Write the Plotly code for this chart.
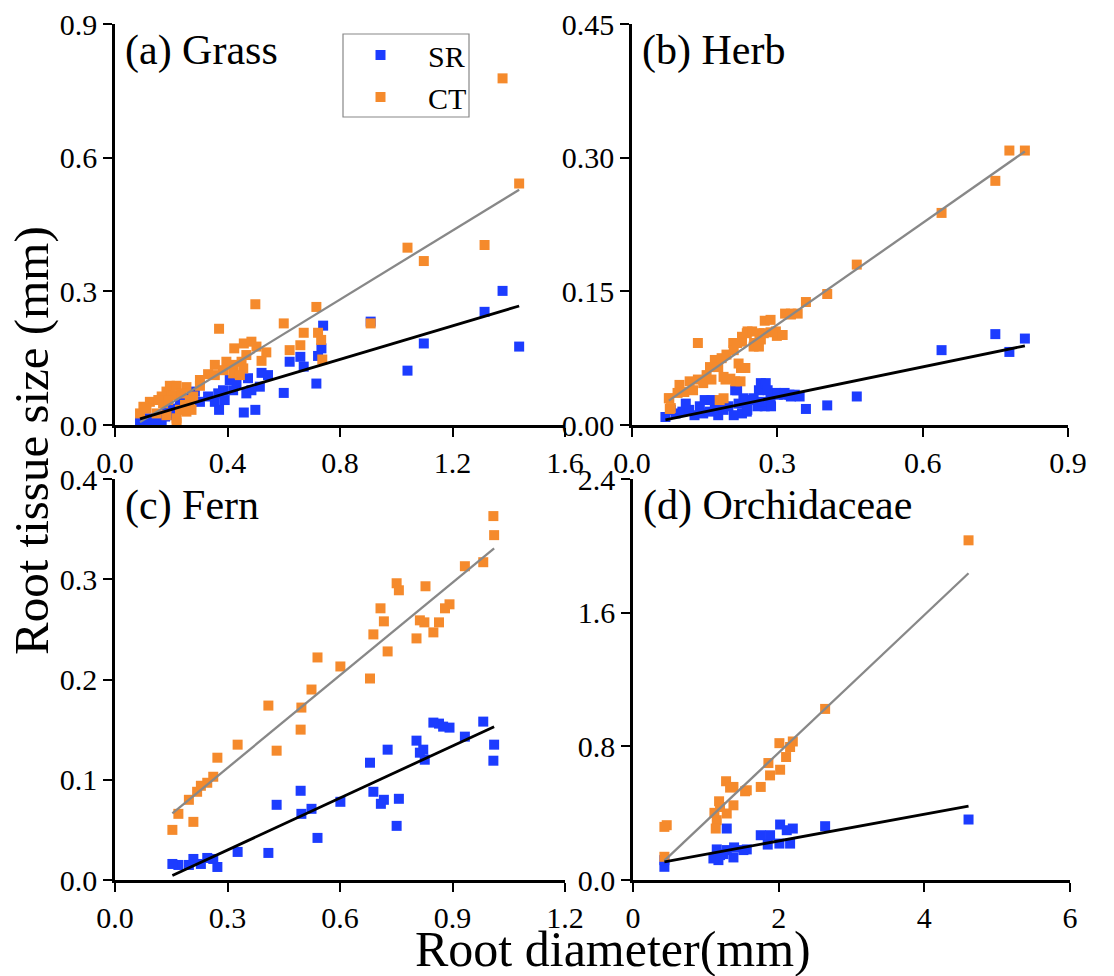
import plotly.graph_objects as go

# ---------------- data ----------------
# (a) Grass
grass_ct_x = [1.378, 1.437, 1.040, 1.314, 1.098, 0.909, 0.499, 0.716, 0.600, 0.370, 0.671, 0.722, 0.733,
              0.659, 0.621, 0.737, 0.424, 0.458, 0.485, 0.503, 0.538, 0.521, 0.467, 0.450, 0.456, 0.420,
              0.396, 0.355, 0.384, 0.331, 0.302, 0.355, 0.420, 0.444, 0.278, 0.302, 0.195, 0.219, 0.254,
              0.183, 0.166, 0.207, 0.237, 0.266, 0.249, 0.231, 0.254, 0.272, 0.219, 0.219, 0.124, 0.101,
              0.089, 0.112, 0.171, 0.154, 0.189, 0.148, 0.183]
grass_ct_y = [0.778, 0.542, 0.398, 0.404, 0.368, 0.228, 0.271, 0.265, 0.228, 0.216, 0.207, 0.207, 0.191,
              0.179, 0.168, 0.147, 0.172, 0.183, 0.187, 0.176, 0.163, 0.144, 0.157, 0.142, 0.127, 0.135,
              0.142, 0.135, 0.123, 0.114, 0.101, 0.112, 0.116, 0.112, 0.064, 0.088, 0.088, 0.088, 0.085,
              0.075, 0.064, 0.067, 0.071, 0.056, 0.045, 0.034, 0.030, 0.034, 0.015, 0.004, 0.052, 0.041,
              0.026, 0.037, 0.049, 0.056, 0.056, 0.026, 0.022]
grass_sr_x = [1.378, 1.314, 1.437, 1.098, 1.040, 0.909, 0.740, 0.734, 0.722, 0.716, 0.659, 0.621, 0.671,
              0.600, 0.499, 0.458, 0.521, 0.544, 0.515, 0.485, 0.473, 0.467, 0.432, 0.408, 0.420, 0.384,
              0.367, 0.390, 0.355, 0.370, 0.331, 0.302, 0.284, 0.266, 0.243, 0.231, 0.213, 0.195, 0.178,
              0.160, 0.207, 0.166, 0.124, 0.106, 0.089, 0.136, 0.183]
grass_sr_y = [0.301, 0.254, 0.176, 0.183, 0.122, 0.232, 0.223, 0.172, 0.155, 0.093, 0.153, 0.142, 0.131,
              0.072, 0.034, 0.028, 0.117, 0.112, 0.086, 0.078, 0.105, 0.071, 0.093, 0.101, 0.078, 0.078,
              0.071, 0.056, 0.052, 0.034, 0.064, 0.052, 0.075, 0.060, 0.052, 0.045, 0.037, 0.026, 0.019,
              0.015, 0.022, 0.007, 0.015, 0.010, 0.007, 0.007, 0.034]

# (b) Herb
herb_ct_x = [0.779, 0.811, 0.750, 0.639, 0.464, 0.403, 0.359, 0.328, 0.316, 0.274, 0.299, 0.286, 0.263,
             0.266, 0.2385, 0.251, 0.227, 0.209, 0.225, 0.213, 0.193, 0.181, 0.136, 0.076, 0.078,
             0.077, 0.080, 0.098, 0.094, 0.108, 0.119, 0.126, 0.136, 0.147, 0.154, 0.161, 0.171, 0.164,
             0.178, 0.185, 0.189, 0.195, 0.203, 0.210, 0.217, 0.220, 0.224, 0.227, 0.234, 0.237, 0.248,
             0.252, 0.262, 0.272, 0.286, 0.297, 0.311, 0.328, 0.342, 0.189]
herb_ct_y = [0.308, 0.308, 0.274, 0.238, 0.180, 0.147, 0.138, 0.124, 0.125, 0.117, 0.100, 0.104, 0.103,
             0.096, 0.105, 0.088, 0.0935, 0.092, 0.064, 0.049, 0.051, 0.028, 0.092, 0.030, 0.018,
             0.030, 0.019, 0.045, 0.036, 0.037, 0.049, 0.039, 0.051, 0.047, 0.056, 0.065, 0.073, 0.051,
             0.065, 0.075, 0.054, 0.079, 0.052, 0.084, 0.092, 0.069, 0.049, 0.099, 0.064, 0.103, 0.105,
             0.092, 0.088, 0.103, 0.118, 0.105, 0.101, 0.125, 0.125, 0.030]
herb_sr_x = [0.750, 0.811, 0.779, 0.639, 0.464, 0.403, 0.359, 0.328, 0.314, 0.297, 0.286, 0.274, 0.266,
             0.262, 0.251, 0.213, 0.230, 0.237,
             0.069, 0.080, 0.090, 0.104, 0.118, 0.129, 0.140, 0.150, 0.147, 0.160, 0.171, 0.178, 0.189,
             0.199, 0.210, 0.217, 0.220, 0.227, 0.234, 0.238, 0.248, 0.259, 0.269, 0.276, 0.280, 0.287,
             0.301, 0.315, 0.325, 0.336, 0.346, 0.111, 0.164]
herb_sr_y = [0.102, 0.097, 0.082, 0.084, 0.032, 0.022, 0.018, 0.032, 0.034, 0.036, 0.030, 0.021, 0.047,
             0.039, 0.030, 0.039, 0.030, 0.015,
             0.009, 0.017, 0.013, 0.015, 0.017, 0.011, 0.021, 0.028, 0.013, 0.015, 0.019, 0.011, 0.017,
             0.021, 0.011, 0.039, 0.024, 0.013, 0.028, 0.017, 0.028, 0.021, 0.026, 0.047, 0.039, 0.021,
             0.034, 0.036, 0.034, 0.034, 0.032, 0.024, 0.028]

# (c) Fern
fern_ct_x = [1.009, 1.011, 0.982, 0.933, 0.828, 0.751, 0.757, 0.892, 0.880, 0.864, 0.849, 0.813, 0.825,
             0.804, 0.708, 0.717, 0.689, 0.727, 0.680, 0.601, 0.540, 0.524, 0.497, 0.495, 0.409, 0.431,
             0.327, 0.273, 0.262, 0.246, 0.229, 0.219, 0.197, 0.209, 0.169, 0.153]
fern_ct_y = [0.363, 0.344, 0.317, 0.313, 0.293, 0.296, 0.289, 0.275, 0.271, 0.257, 0.247, 0.259, 0.257,
             0.241, 0.271, 0.258, 0.245, 0.228, 0.201, 0.213, 0.222, 0.190, 0.172, 0.150, 0.174, 0.129,
             0.135, 0.122, 0.103, 0.097, 0.094, 0.088, 0.080, 0.058, 0.066, 0.050]
fern_sr_x = [0.982, 1.011, 1.009, 0.933, 0.892, 0.875, 0.864, 0.849, 0.804, 0.813, 0.822, 0.826, 0.727,
             0.680, 0.689, 0.717, 0.709, 0.757, 0.751, 0.601, 0.524, 0.495, 0.497, 0.540, 0.431, 0.409,
             0.327, 0.273, 0.262, 0.246, 0.229, 0.209, 0.197, 0.169, 0.153]
fern_sr_y = [0.158, 0.135, 0.119, 0.143, 0.152, 0.153, 0.156, 0.157, 0.139, 0.127, 0.130, 0.120, 0.130,
             0.117, 0.088, 0.080, 0.076, 0.081, 0.054, 0.078, 0.071, 0.089, 0.066, 0.042, 0.075, 0.027,
             0.028, 0.013, 0.021, 0.022, 0.016, 0.021, 0.015, 0.015, 0.016]

# (d) Orchidaceae
orchid_ct_x = [4.607, 2.638, 2.194, 2.010, 2.157, 2.102, 1.859, 2.020, 1.882, 1.754, 1.539, 1.562, 1.278,
               1.379, 1.333, 1.182, 1.379, 1.287, 1.118, 1.150, 1.136, 0.463, 0.431, 0.431, 1.195]
orchid_ct_y = [2.033, 1.024, 0.829, 0.819, 0.796, 0.736, 0.700, 0.660, 0.626, 0.557, 0.531, 0.537, 0.591,
               0.557, 0.553, 0.471, 0.447, 0.398, 0.402, 0.358, 0.308, 0.328, 0.318, 0.139, 0.437]
orchid_sr_x = [4.607, 2.638, 2.194, 2.020, 2.111, 2.157, 2.010, 1.882, 1.754, 1.850, 1.562, 1.516, 1.388,
               1.287, 1.379, 1.287, 1.241, 1.150, 1.173, 1.104, 1.195, 0.431, 0.431]
orchid_sr_y = [0.362, 0.322, 0.308, 0.332, 0.298, 0.218, 0.218, 0.268, 0.268, 0.212, 0.183, 0.179, 0.195,
               0.308, 0.135, 0.179, 0.155, 0.183, 0.119, 0.129, 0.149, 0.079, 0.119]

# linear fits (slope, intercept)
fit_grass_ct = (0.387, -0.028)
fit_grass_sr = (0.188, -0.003)
fit_herb_ct = (0.3805, -0.0016)
fit_herb_sr = (0.112, -0.002)
fit_fern_ct = (0.308, 0.0194)
fit_fern_sr = (0.173, -0.022)
fit_orchid_ct = (0.412, -0.062)
fit_orchid_sr = (0.080, 0.074)

panel_titles = ["(a) Grass", "(b) Herb", "(c) Fern", "(d) Orchidaceae"]
x_ranges = [[0, 1.6], [0, 0.9], [0, 1.2], [0, 6]]
x_dticks = [0.4, 0.3, 0.3, 2]
x_formats = [".1f", ".1f", ".1f", "d"]
y_ranges = [[0, 0.9], [0, 0.45], [0, 0.4], [0, 2.4]]
y_dticks = [0.3, 0.15, 0.1, 0.8]
y_formats = [".1f", ".2f", ".1f", ".1f"]

# ---------------- figure ----------------
W, H = 1114, 976
FONT = "Liberation Serif"
BLUE = "#1C3CFF"
ORANGE = "#F58A2C"

panels = [
    (grass_sr_x, grass_sr_y, grass_ct_x, grass_ct_y, fit_grass_sr, fit_grass_ct),
    (herb_sr_x, herb_sr_y, herb_ct_x, herb_ct_y, fit_herb_sr, fit_herb_ct),
    (fern_sr_x, fern_sr_y, fern_ct_x, fern_ct_y, fit_fern_sr, fit_fern_ct),
    (orchid_sr_x, orchid_sr_y, orchid_ct_x, orchid_ct_y, fit_orchid_sr, fit_orchid_ct),
]

# plot-area pixel boxes (left, right, top, bottom)
boxes = [(115, 565, 24, 425), (632, 1068, 24, 425), (115, 565, 479, 880), (633, 1070, 479, 880)]

fig = go.Figure()
layout = dict(
    width=W, height=H, margin=dict(l=0, r=0, t=0, b=0, autoexpand=False),
    paper_bgcolor="white", plot_bgcolor="white",
    font=dict(family=FONT, size=30, color="black"),
    showlegend=True,
)

annotations = []
for i, (srx, sry, ctx, cty, fsr, fct) in enumerate(panels):
    n = "" if i == 0 else str(i + 1)
    xa, ya = "x" + n, "y" + n
    fig.add_trace(go.Scatter(x=srx, y=sry, mode="markers", name="SR", legendgroup="SR",
                             showlegend=(i == 0), xaxis=xa, yaxis=ya,
                             marker=dict(symbol="square", size=10, color=BLUE, line=dict(width=0))))
    fig.add_trace(go.Scatter(x=ctx, y=cty, mode="markers", name="CT", legendgroup="CT",
                             showlegend=(i == 0), xaxis=xa, yaxis=ya,
                             marker=dict(symbol="square", size=10, color=ORANGE, line=dict(width=0))))
    for xs, (m, b), col, lw in [(ctx, fct, "#888888", 2.3), (srx, fsr, "black", 2.8)]:
        x0, x1 = min(xs), max(xs)
        fig.add_trace(go.Scatter(x=[x0, x1], y=[m * x0 + b, m * x1 + b], mode="lines",
                                 showlegend=False, xaxis=xa, yaxis=ya, hoverinfo="skip",
                                 line=dict(color=col, width=lw)))
    l, r, t, btm = boxes[i]
    axis_common = dict(showline=True, linecolor="black", linewidth=2.6, ticks="outside", ticklen=9,
                       tickwidth=2.4, tickcolor="black", showgrid=False, zeroline=False, mirror=False,
                       automargin=False)
    layout["xaxis" + n] = dict(axis_common, domain=[l / W, r / W], anchor=ya, range=x_ranges[i],
                               dtick=x_dticks[i], tick0=0, tickformat=x_formats[i])
    layout["yaxis" + n] = dict(axis_common, domain=[1 - btm / H, 1 - t / H], anchor=xa, range=y_ranges[i],
                               dtick=y_dticks[i], tick0=0, tickformat=y_formats[i])
    annotations.append(dict(text=panel_titles[i], xref="paper", yref="paper", x=(l + 8) / W,
                            y=1 - (t + 1) / H, xanchor="left", yanchor="top", showarrow=False,
                            font=dict(family=FONT, size=42, color="black")))

annotations.append(dict(text="Root tissue size (mm)", xref="paper", yref="paper", x=31 / W, y=1 - 441 / H,
                        textangle=-90, showarrow=False, xanchor="center", yanchor="middle",
                        font=dict(family=FONT, size=49, color="black")))
annotations.append(dict(text="Root diameter(mm)", xref="paper", yref="paper", x=613 / W, y=1 - 949 / H,
                        showarrow=False, xanchor="center", yanchor="middle",
                        font=dict(family=FONT, size=50, color="black")))
layout["annotations"] = annotations
# legend frame
layout["shapes"] = [dict(type="rect", xref="paper", yref="paper", x0=343 / W, x1=469 / W,
                         y0=1 - 117 / H, y1=1 - 34 / H, line=dict(color="#888888", width=1.2),
                         fillcolor="rgba(0,0,0,0)")]
layout["legend"] = dict(x=333 / W, y=1 - 29 / H, xanchor="left", yanchor="top", bgcolor="rgba(0,0,0,0)",
                        borderwidth=0, font=dict(family=FONT, size=30, color="black"),
                        itemwidth=85, tracegroupgap=0)
fig.update_layout(**layout)
fig.update_xaxes(tickfont=dict(family=FONT, size=30, color="black"))
fig.update_yaxes(tickfont=dict(family=FONT, size=30, color="black"))
fig.write_html("out.html", config={"displayModeBar": False},
               post_script="document.body.style.margin='0';document.body.style.padding='0';")
